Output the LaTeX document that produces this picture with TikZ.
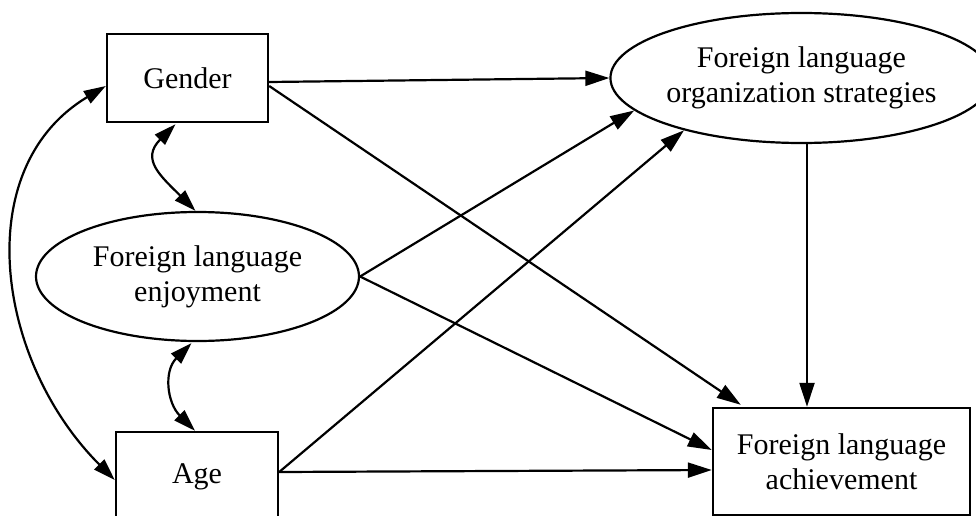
\documentclass[tikz,border=0pt]{standalone}
\usepackage{fontspec}
\setmainfont{Liberation Serif}
\usetikzlibrary{arrows.meta,shapes.geometric,calc}
\begin{document}
\begin{tikzpicture}[x=1pt,y=-1pt,
  every node/.style={font=\fontsize{30}{35}\selectfont, align=center, inner sep=0pt},
  obsbox/.style={draw, line width=2.4pt, rectangle},
  latent/.style={draw, line width=2.2pt, ellipse},
  conn/.style={line width=2.2pt, -{Triangle[length=24pt,width=15pt]}},
  bicon/.style={line width=2.2pt, {Triangle[length=22pt,width=14pt]}-{Triangle[length=22pt,width=14pt]}}
]
\useasboundingbox (0,0) rectangle (976,516);
\clip (0,0) rectangle (976,516);

\node[obsbox, minimum width=161pt, minimum height=88pt] (gender) at (187.5,78) {Gender};
\node[latent, minimum width=323pt, minimum height=129pt] (fle) at (197.5,276.5) {Foreign language\\enjoyment};
\node[obsbox, minimum width=162pt, minimum height=90pt] (age) at (197,477) {Age};
\node[latent, minimum width=346pt, minimum height=130pt] (flos) at (801.5,78) {Foreign language\\organization strategies};
\node[obsbox, minimum width=257pt, minimum height=107pt] (fla) at (841.5,461.5) {Foreign language\\achievement};

% straight paths
\draw[conn] ($(gender.east)+(0,4)$) -- (flos.west);
\draw[conn] ($(gender.east)+(0,8)$) -- ($(fla.north west)+(29,-2)$);
\draw[conn] (fle.east) -- (flos.191);
\draw[conn] (fle.east) -- ($(fla.west)+(0,-11.5)$);
\draw[conn] ($(age.east)+(0,-5)$) -- (flos.204);
\draw[conn] ($(age.east)+(0,-5)$) -- ($(fla.west)+(0,8.5)$);
\coordinate (fx) at ($(flos.south)+(5.5,0)$);
\draw[conn] (fx) -- (fx |- fla.north);

% covariances
\draw[bicon] ($(gender.west)+(0,8)$) .. controls +(-137,82) and +(-119,-119) .. ($(age.west)+(0,3)$);
\draw[bicon] ($(gender.south)+(-12,1)$) .. controls +(-35,35) and +(-35,-35) .. ($(fle.north)+(-2,0)$);
\draw[bicon] ($(fle.south)+(-6,1)$) .. controls +(-28,28) and +(-28,-28) .. ($(age.north)+(-2,0)$);
\end{tikzpicture}
\end{document}
